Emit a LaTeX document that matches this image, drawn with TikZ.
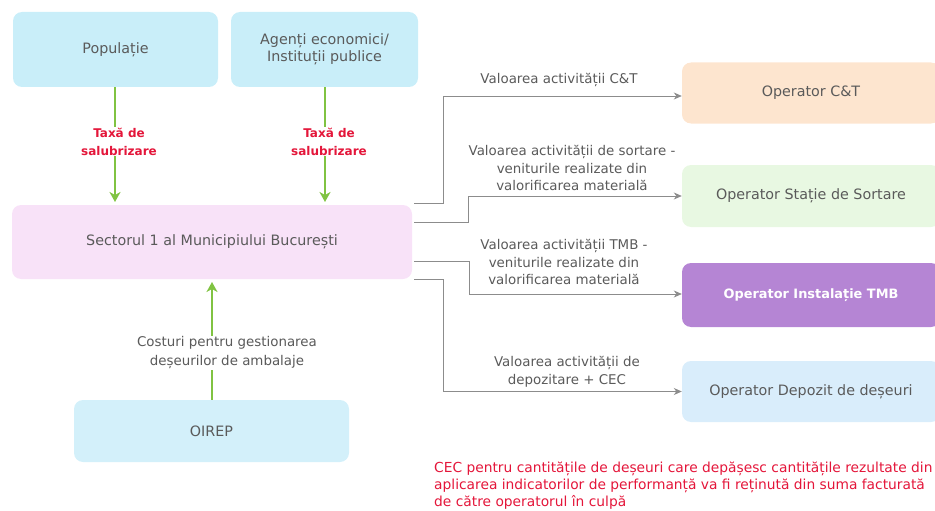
\documentclass[tikz,border=0pt]{standalone}
\usepackage{fontspec}
\setmainfont{DejaVu Sans}
\usetikzlibrary{arrows.meta,positioning,calc}
\definecolor{boxcyan}{HTML}{C9EEF9}
\definecolor{boxpink}{HTML}{F8E2F8}
\definecolor{boxoirep}{HTML}{D3F0FA}
\definecolor{boxpeach}{HTML}{FDE5CF}
\definecolor{boxgreen}{HTML}{E8F8E2}
\definecolor{boxpurple}{HTML}{B585D4}
\definecolor{boxblue}{HTML}{D9EDFB}
\definecolor{txtgray}{HTML}{5A5A5A}
\definecolor{lngray}{HTML}{8C8C8C}
\definecolor{redtxt}{HTML}{E4163A}
\definecolor{arrgreen}{HTML}{80C342}
\tikzset{
  box/.style={rounded corners=9pt, inner sep=0pt, align=center, text=txtgray, font=\fontsize{14.3}{17.5}\selectfont},
  conn/.style={draw=lngray, line width=0.8pt, -{Stealth[length=8pt,width=7pt,inset=2.5pt]}},
  garrow/.style={draw=arrgreen, line width=2pt, -{Stealth[length=10pt,width=11pt,inset=3pt]}},
  clabel/.style={align=center, text=txtgray, font=\fontsize{13.4}{17.5}\selectfont, inner sep=1pt},
  redlabel/.style={align=center, text=redtxt, font=\bfseries\fontsize{12}{18}\selectfont, fill=white, inner sep=1pt},
}
\begin{document}
\begin{tikzpicture}[x=1pt,y=-1pt]
\useasboundingbox (0,0) rectangle (935,511);
% boxes
\node[box, fill=boxcyan, minimum width=205pt, minimum height=75pt] (pop) at (115.5,49.5) {Populație};
\node[box, fill=boxcyan, minimum width=187pt, minimum height=75pt] (ag) at (324.5,49.5) {Agenți economici/\\Instituții publice};
\node[box, fill=boxpink, minimum width=400pt, minimum height=74pt] (sec) at (212,242) {Sectorul 1 al Municipiului București};
\node[box, fill=boxoirep, minimum width=275pt, minimum height=62pt] (oirep) at (211.5,431) {OIREP};
\node[box, fill=boxpeach, minimum width=258pt, minimum height=61pt] (cat) at (811,93) {Operator C\&T};
\node[box, fill=boxgreen, minimum width=258pt, minimum height=62pt] (sort) at (811,196) {Operator Stație de Sortare};
\node[box, fill=boxpurple, minimum width=258pt, minimum height=64pt, text=white, font=\bfseries\fontsize{12.9}{15}\selectfont] (tmb) at (811,295) {Operator Instalație TMB};
\node[box, fill=boxblue, minimum width=258pt, minimum height=61pt] (dep) at (811,391.5) {Operator Depozit de deșeuri};
% green arrows
\coordinate (popend) at (115,202);
\coordinate (agend) at (325,202);
\coordinate (oirepend) at (212,282);
\draw[garrow] (pop.south -| popend) -- (popend);
\draw[garrow] (ag.south -| agend) -- (agend);
\draw[garrow] (oirep.north -| oirepend) -- (oirepend);
\node[redlabel] (t1) at (119,141.5) {Taxă de\\salubrizare};
\node[redlabel] (t2) at (329,141.5) {Taxă de\\salubrizare};
\node[clabel, fill=white, font=\fontsize{13.4}{19}\selectfont] (cost) at (227,353) {Costuri pentru gestionarea\\deșeurilor de ambalaje};
% connectors
\coordinate (s1) at (414,203);
\coordinate (s2) at (414,222);
\coordinate (s3) at (414,261);
\coordinate (s4) at (414,279);
\draw[conn] (s1) -- (443,203) |- (cat.west |- 0,96);
\draw[conn] (s2) -- (468,222) |- (sort.west);
\draw[conn] (s3) -- (469,261) |- (tmb.west |- 0,294);
\draw[conn] (s4) -- (443,279) |- (dep.west);
\node[clabel] (l1) at (559,80) {Valoarea activității C\&T};
\node[clabel] (l2) at (572,168) {Valoarea activității de sortare -\\veniturile realizate din\\valorificarea materială};
\node[clabel] (l3) at (564,262) {Valoarea activității TMB -\\veniturile realizate din\\valorificarea materială};
\node[clabel] (l4) at (567,372) {Valoarea activității de\\depozitare + CEC};
% note
\node[anchor=north west, align=left, text=redtxt, inner sep=0pt, font=\fontsize{13.8}{17}\selectfont] (note) at (434,462) {CEC pentru cantitățile de deșeuri care depășesc cantitățile rezultate din\\aplicarea indicatorilor de performanță va fi reținută din suma facturată\\de către operatorul în culpă};
\end{tikzpicture}
\end{document}
